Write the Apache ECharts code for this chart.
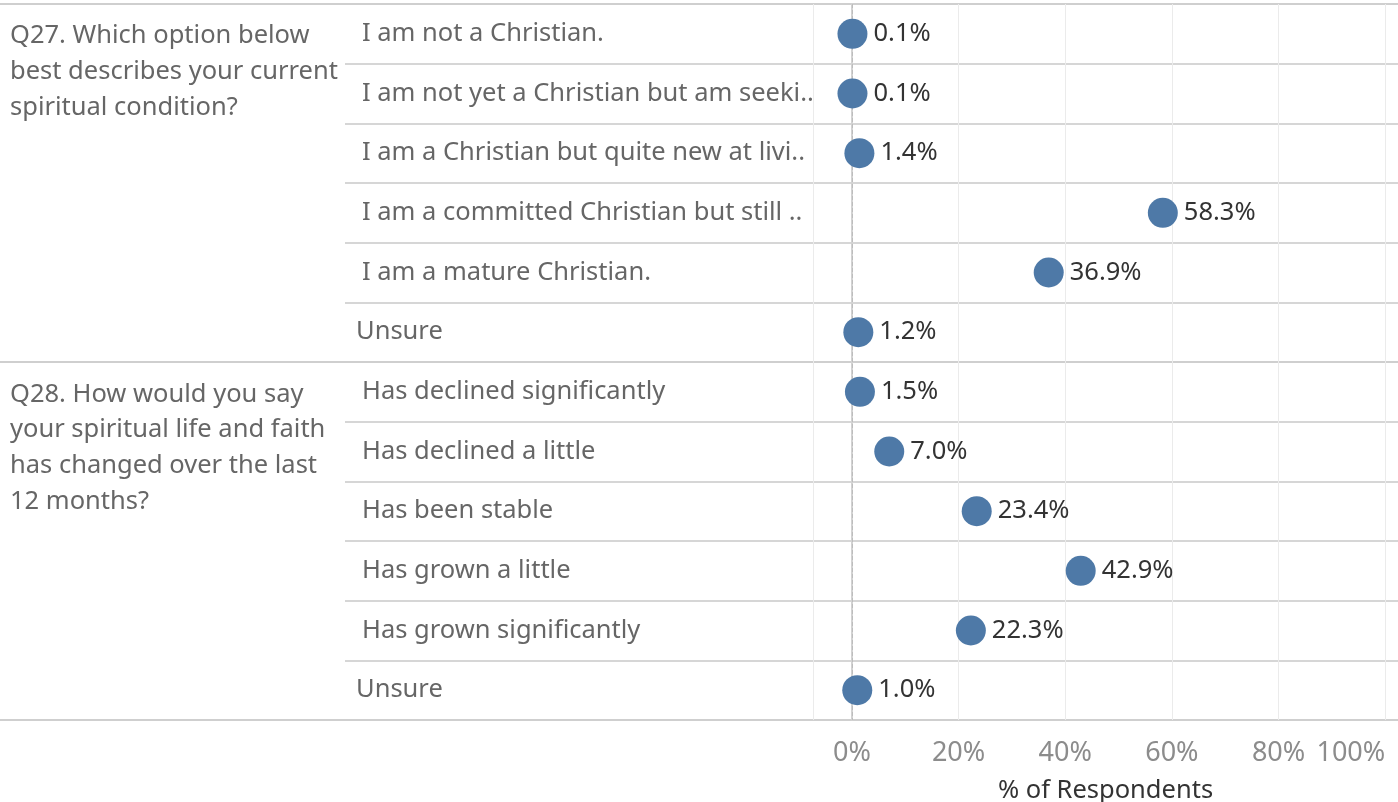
<html>
<head>
    <meta charset="utf-8">
    <title>Chart</title>
    <script src="https://cdn.jsdelivr.net/npm/echarts@6/dist/echarts.min.js"></script>
    <style>
        html, body { margin: 0; padding: 0; background: #fff; }
        #main { width: 1398px; height: 802px; }
    </style>
</head>
<body>
    <div id="main"></div>
    <script type="text/javascript">
        // question texts (wrapped as in the original)
        var groupLabels = [
            'Q27. Which option below\nbest describes your current\nspiritual condition?',
            'Q28. How would you say\nyour spiritual life and faith\nhas changed over the last\n12 months?'
        ];
        var q27Answers = [
            'I am not a Christian.',
            'I am not yet a Christian but am seeki..',
            'I am a Christian but quite new at livi..',
            'I am a committed Christian but still ..',
            'I am a mature Christian.',
            'Unsure'
        ];
        var q27Values = [0.1, 0.1, 1.4, 58.3, 36.9, 1.2];
        var q28Answers = [
            'Has declined significantly',
            'Has declined a little',
            'Has been stable',
            'Has grown a little',
            'Has grown significantly',
            'Unsure'
        ];
        var q28Values = [1.5, 7.0, 23.4, 42.9, 22.3, 1.0];
        var xTicks = [0, 20, 40, 60, 80, 100];

        var FONT = '"Noto Sans", Lato, sans-serif';
        var FS = 25.5;
        var answers = q27Answers.concat(q28Answers);
        var values = q27Values.concat(q28Values);
        var points = values.map(function (v, i) { return [v, i]; });
        // "Unsure" sits a little further left in the original
        var answerItems = answers.map(function (a) {
            return a === 'Unsure'
                ? { value: a, textStyle: { align: 'left', padding: [4, 0, 0, -6] } }
                : { value: a, textStyle: { align: 'left', padding: [4, 0, 0, 0] } };
        });

        var myChart = echarts.init(document.getElementById('main'));

        var option = {
            animation: false,
            textStyle: { fontFamily: FONT },
            grid: [
                // data area
                { left: 813, right: 0, top: 4, bottom: 82, outerBoundsMode: 'none' },
                // row separators (label column + plot)
                { left: 345, right: 0, top: 4, bottom: 82, outerBoundsMode: 'none' },
                // group separators, full width
                { left: 0, right: 0, top: 4, bottom: 82, outerBoundsMode: 'none' }
            ],
            xAxis: [
                {
                    gridIndex: 0,
                    type: 'value',
                    min: -7.3,
                    max: 102.4,
                    axisLine: { show: false },
                    axisTick: { show: false },
                    splitLine: { show: true, lineStyle: { color: '#ebebeb', width: 1 } },
                    axisLabel: {
                        customValues: xTicks,
                        color: '#8c8c8c',
                        fontSize: 27,
                        margin: 20,
                        alignMaxLabel: 'right',
                        formatter: '{value}%'
                    },
                    name: '% of Respondents',
                    nameLocation: 'middle',
                    nameGap: 58,
                    nameTextStyle: { color: '#333', fontSize: FS }
                },
                { gridIndex: 1, type: 'value', show: false },
                { gridIndex: 2, type: 'value', show: false }
            ],
            yAxis: [
                {
                    gridIndex: 0,
                    type: 'category',
                    inverse: true,
                    data: answerItems,
                    axisLine: { show: true, lineStyle: { color: '#d2d2d2', width: 2 } },
                    axisTick: { show: false },
                    splitLine: { show: false },
                    axisLabel: {
                        align: 'left',
                        margin: 451,
                        color: '#666',
                        fontSize: FS
                    }
                },
                {
                    gridIndex: 1,
                    type: 'category',
                    inverse: true,
                    data: answers,
                    axisLine: { show: false },
                    axisTick: { show: false },
                    axisLabel: { show: false },
                    splitLine: { show: true, lineStyle: { color: '#d6d6d6', width: 2 } }
                },
                {
                    gridIndex: 2,
                    type: 'category',
                    inverse: true,
                    data: ['Q27', 'Q28'],
                    axisLine: { show: false },
                    axisTick: { show: false },
                    axisLabel: { show: false },
                    splitLine: { show: true, lineStyle: { color: '#cfcfcf', width: 2 } }
                }
            ],
            graphic: [
                {
                    type: 'text', left: 10, top: 18,
                    style: { text: groupLabels[0], fill: '#666', font: FS + 'px ' + FONT, lineHeight: 35.7 }
                },
                {
                    type: 'text', left: 10, top: 376.5,
                    style: { text: groupLabels[1], fill: '#666', font: FS + 'px ' + FONT, lineHeight: 35.7 }
                }
            ],
            series: [
                {
                    type: 'scatter',
                    xAxisIndex: 0,
                    yAxisIndex: 0,
                    data: points,
                    symbolSize: 30,
                    itemStyle: { color: '#4e79a7', opacity: 1 },
                    label: {
                        show: true,
                        position: 'right',
                        distance: 6,
                        color: '#333',
                        fontSize: FS,
                        formatter: function (p) { return p.value[0].toFixed(1) + '%'; }
                    },
                    markLine: {
                        silent: true,
                        symbol: 'none',
                        label: { show: false },
                        lineStyle: { color: '#bdbdbd', type: 'dashed', width: 1 },
                        data: [{ xAxis: 0 }]
                    },
                    z: 5
                }
            ]
        };
        myChart.setOption(option);
    </script>
</body>
</html>
